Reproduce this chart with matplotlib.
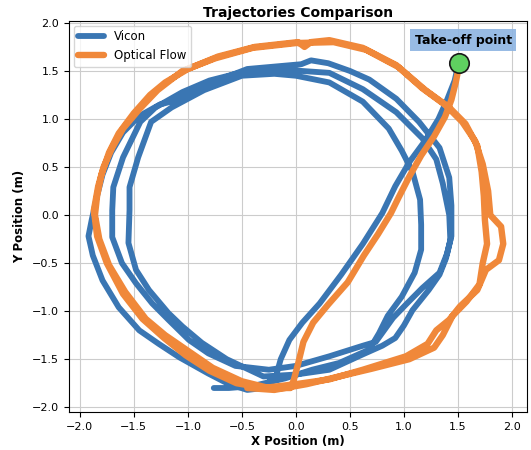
import matplotlib
matplotlib.use("Agg")
import matplotlib.pyplot as plt

# ---- data ----
vicon_x = [1.50, 1.47, 1.40, 1.32, 1.20, 1.05, 0.92, 0.80, 0.62, 0.42, 0.22, 0.06, -0.06, -0.14, -0.18,
           -0.30, -0.45, -0.62, -0.81, -1.08, -1.27, -1.45, -1.64, -1.79, -1.88, -1.92, -1.89, -1.84, -1.79, -1.71,
           -1.60, -1.45, -1.26, -1.09, -0.82, -0.45, -0.15, 0.05, 0.14, 0.30, 0.50, 0.68, 0.93, 1.14, 1.33,
           1.42, 1.44, 1.44, 1.40, 1.33, 1.17, 1.02, 0.90, 0.74, 0.62, 0.31, 0.00, -0.25,
           -0.56, -0.81, -0.99, -1.18, -1.33, -1.48, -1.61, -1.70, -1.70, -1.69, -1.60, -1.44, -1.30, -1.05, -0.80,
           -0.45, -0.10, 0.05, 0.31, 0.62, 0.93, 1.17, 1.30, 1.36, 1.42, 1.43, 1.39, 1.33, 1.23, 1.08, 1.00, 0.92,
           0.80, 0.62, 0.31, 0.00, -0.30,
           -0.64, -0.87, -1.05, -1.18, -1.36, -1.48, -1.55, -1.54, -1.54, -1.46, -1.34, -1.15, -0.85, -0.50, -0.20,
           0.00, 0.31, 0.62, 0.86, 0.98, 1.08, 1.15, 1.16, 1.16, 1.10, 0.98, 0.85, 0.77, 0.68, 0.40, 0.15, -0.10,
           -0.40, -0.62, -0.76]
vicon_y = [1.55, 1.40, 1.20, 1.00, 0.78, 0.55, 0.30, 0.02, -0.30, -0.62, -0.92, -1.12, -1.30, -1.50, -1.66,
           -1.80, -1.82, -1.76, -1.65, -1.48, -1.34, -1.20, -0.96, -0.68, -0.42, -0.22, -0.05, 0.20, 0.42, 0.65,
           0.86, 1.03, 1.15, 1.20, 1.36, 1.52, 1.55, 1.57, 1.61, 1.58, 1.50, 1.41, 1.21, 0.97, 0.70,
           0.39, 0.10, -0.22, -0.40, -0.60, -0.76, -0.93, -1.07, -1.32, -1.36, -1.47, -1.57, -1.61,
           -1.57, -1.44, -1.30, -1.09, -0.92, -0.71, -0.50, -0.23, 0.05, 0.29, 0.60, 0.97, 1.12, 1.28, 1.40,
           1.50, 1.52, 1.50, 1.48, 1.31, 1.07, 0.80, 0.58, 0.33, 0.00, -0.26, -0.45, -0.62, -0.78, -0.99, -1.15, -1.28,
           -1.36, -1.45, -1.61, -1.66, -1.68,
           -1.50, -1.33, -1.16, -1.02, -0.78, -0.57, -0.29, 0.05, 0.29, 0.60, 0.97, 1.12, 1.30, 1.45, 1.47,
           1.45, 1.38, 1.18, 0.90, 0.67, 0.45, 0.16, -0.10, -0.36, -0.60, -0.85, -1.05, -1.23, -1.40, -1.54, -1.61, -1.70,
           -1.78, -1.80, -1.80]

flow_x = [1.51, 1.48, 1.44, 1.38, 1.28, 1.16, 1.05, 0.95, 0.88, 0.76, 0.63, 0.48, 0.30, 0.16, 0.07, 0.02, -0.02, -0.05,
          -0.25, -0.50, -0.77, -0.99, -1.21, -1.39, -1.58, -1.73, -1.82, -1.86, -1.84, -1.80, -1.73, -1.64, -1.50,
          -1.35, -1.21, -1.00, -0.72, -0.38, 0.02, 0.08, 0.14, 0.31, 0.62, 0.93, 1.17, 1.39, 1.54, 1.66, 1.73,
          1.78, 1.80, 1.90, 1.92, 1.88, 1.76, 1.68, 1.52, 1.42, 1.30, 1.22, 1.02, 0.62, 0.31, 0.00, -0.30,
          -0.55, -0.80, -1.02, -1.22, -1.42, -1.60, -1.75, -1.84, -1.87, -1.83, -1.78, -1.70, -1.60, -1.45, -1.28,
          -1.05, -0.75, -0.40, 0.00, 0.35, 0.65, 0.95, 1.20, 1.42, 1.57, 1.68, 1.72, 1.74, 1.75, 1.77, 1.73, 1.70,
          1.58, 1.45, 1.36, 1.28, 1.05, 0.70, 0.40, 0.10, -0.20, -0.45]
flow_y = [1.55, 1.38, 1.20, 1.02, 0.82, 0.62, 0.40, 0.18, 0.02, -0.20, -0.42, -0.70, -0.93, -1.12, -1.32, -1.55, -1.72, -1.80,
          -1.80, -1.73, -1.59, -1.42, -1.25, -1.08, -0.80, -0.52, -0.25, 0.00, 0.20, 0.42, 0.65, 0.85, 1.06,
          1.25, 1.38, 1.52, 1.65, 1.75, 1.80, 1.75, 1.80, 1.82, 1.74, 1.56, 1.32, 1.14, 0.97, 0.77, 0.53,
          0.25, 0.00, -0.12, -0.30, -0.47, -0.57, -0.78, -0.95, -1.09, -1.20, -1.34, -1.47, -1.61, -1.71, -1.76, -1.80,
          -1.75, -1.62, -1.46, -1.28, -1.08, -0.82, -0.50, -0.22, 0.05, 0.30, 0.50, 0.70, 0.90, 1.10, 1.30,
          1.50, 1.63, 1.74, 1.79, 1.80, 1.72, 1.54, 1.30, 1.12, 0.95, 0.72, 0.45, 0.20, -0.05, -0.30, -0.50, -0.72,
          -0.90, -1.05, -1.25, -1.38, -1.50, -1.60, -1.68, -1.76, -1.82, -1.80]

takeoff_x = [1.51]
takeoff_y = [1.58]
takeoff_label = "Take-off point"
x_ticks = [-2.0, -1.5, -1.0, -0.5, 0.0, 0.5, 1.0, 1.5, 2.0]
y_ticks = [-2.0, -1.5, -1.0, -0.5, 0.0, 0.5, 1.0, 1.5, 2.0]

fig = plt.figure(figsize=(5.31, 4.5), dpi=100)
ax = fig.add_axes([0.130, 0.0844, 0.8625, 0.869])

ax.plot(vicon_x, vicon_y, color="#3a76b3", lw=4.2, label="Vicon", solid_joinstyle="round", solid_capstyle="round")
ax.plot(flow_x, flow_y, color="#f0883a", lw=4.6, label="Optical Flow", solid_joinstyle="round", solid_capstyle="round")
ax.plot(takeoff_x, takeoff_y, "o", ms=14, mfc="#5fd060", mec="#1a1a1a", mew=1.2, zorder=5)
ax.text(takeoff_x[0] + 0.04, takeoff_y[0] + 0.24, takeoff_label, ha="center", va="center",
        fontsize=9, fontweight="bold",
        bbox=dict(boxstyle="square,pad=0.35", fc="#8db4e2", ec="none", alpha=0.9), zorder=6)

ax.set_xlim(-2.10, 2.14)
ax.set_ylim(-2.05, 2.02)
ax.set_xticks(x_ticks)
ax.set_yticks(y_ticks)
ax.tick_params(labelsize=8)
ax.grid(True, color="#cccccc", lw=0.8)
ax.set_axisbelow(True)
ax.set_title("Trajectories Comparison", fontsize=10, fontweight="bold", pad=3)
ax.set_xlabel("X Position (m)", fontsize=8.5, fontweight="bold", labelpad=2)
ax.set_ylabel("Y Position (m)", fontsize=8.5, fontweight="bold", labelpad=4)
ax.legend(loc="upper left", fontsize=8.5, handlelength=2.2, borderaxespad=0.4)

fig.savefig("out.png", dpi=100)
